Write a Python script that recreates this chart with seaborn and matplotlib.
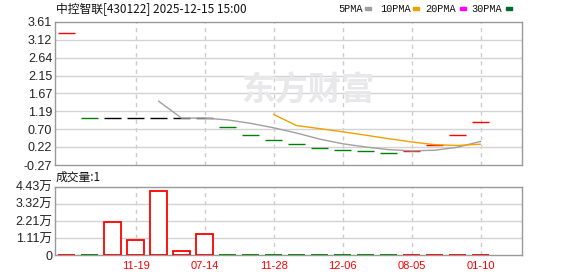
import numpy as np
import pandas as pd
import matplotlib
matplotlib.use("Agg")
import matplotlib.pyplot as plt
import seaborn as sns

# ---------------- data ----------------
title_text = "中控智联[430122] 2025-12-15 15:00"
closes = [3.30, 1.00, 1.00, 1.00, 1.00, 1.00, 1.00, 0.756, 0.535, 0.40,
          0.288, 0.18, 0.125, 0.098, 0.044, 0.12, 0.26, 0.535, 0.884]
candle_dir = ["up", "down", "flat", "flat", "flat", "flat", "flat", "down", "down", "down",
              "down", "down", "down", "down", "down", "up", "up", "up", "up"]
volumes = [0.02, 0.02, 2.12, 0.95, 4.13, 0.24, 1.34, 0.02, 0.02, 0.02,
           0.02, 0.02, 0.02, 0.02, 0.02, 0.02, 0.02, 0.02, 0.02]  # 万
volume_dir = ["up", "down", "up", "up", "up", "up", "up", "down", "down", "down",
              "down", "down", "down", "down", "down", "up", "up", "up", "up"]
xtick_pos = [3, 6, 9, 12, 15, 18]
xtick_labels = ["11-19", "07-14", "11-28", "12-06", "08-05", "01-10"]
price_ticks = [3.61, 3.12, 2.64, 2.15, 1.67, 1.19, 0.70, 0.22, -0.27]
vol_ticks = [0, 1.11, 2.21, 3.32, 4.43]
vol_tick_labels = ["0", "1.11万", "2.21万", "3.32万", "4.43万"]
ma_periods = [5, 10, 20, 30]
ma_names = ["5PMA", "10PMA", "20PMA", "30PMA"]
volume_title = "成交量:1"

# ---------------- style ----------------
sns.set_theme(style="white")
plt.rcParams["font.family"] = ["Liberation Sans", "Noto Sans CJK SC", "DejaVu Sans"]
plt.rcParams["axes.unicode_minus"] = False

COL = {"up": "#ff0000", "down": "#008000", "flat": "#000000"}
MA_COL = ["#a0a0a0", "#f0a000", "#ff00ff", "#006b2d"]
GRID = "#d3d3d3"
SPINE = "#999999"

W, H = 578, 276
fig = plt.figure(figsize=(W / 100, H / 100), dpi=100)
fig.patch.set_facecolor("white")

def fx(px):
    return px / W

def fy(py):
    return 1 - py / H

ax = fig.add_axes([fx(55), fy(165), fx(522) - fx(55), fy(21.7) - fy(165)])
axv = fig.add_axes([fx(55), fy(255), fx(522) - fx(55), fy(186.7) - fy(255)])

idx = np.arange(len(closes))
df = pd.DataFrame({"i": idx, "close": closes})
for p in ma_periods:
    df[f"ma{p}"] = df["close"].rolling(p).mean()

# watermark
fig.text(fx(308), fy(91), "东方财富", fontsize=24, fontweight="bold",
         color="#e8e8eb", ha="center", va="center",
         family=["Noto Sans CJK SC", "DejaVu Sans"], zorder=0)

for a in (ax, axv):
    a.set_facecolor("none")
    a.set_xlim(-0.5, 19.8)
    for s in a.spines.values():
        s.set_color(SPINE)
        s.set_linewidth(1)
    for xp in xtick_pos:
        a.axvline(xp, color="#cccccc", lw=1, ls=(0, (3, 3)), zorder=1)
    a.tick_params(axis="both", length=0, pad=2)

# price panel
ax.set_ylim(-0.27, 3.61)
ax.set_yticks(price_ticks)
ax.set_yticklabels([f"{t:.2f}" for t in price_ticks], fontsize=9, color="#222222")
for t in price_ticks[1:-1]:
    ax.axhline(t, color=GRID, lw=1, zorder=1)
ax.set_xticks([])

ax.hlines(df["close"], df["i"] - 0.36, df["i"] + 0.36,
          colors=[COL[d] for d in candle_dir], lw=1.0, zorder=3)

for p, c in zip(ma_periods, MA_COL):
    sub = df.dropna(subset=[f"ma{p}"])
    if len(sub):
        sns.lineplot(data=sub, x="i", y=f"ma{p}", ax=ax, color=c, lw=1, zorder=4)
ax.set_xlabel("")
ax.set_ylabel("")
ax.set_xlim(-0.5, 19.8)

# volume panel
axv.set_ylim(0, 4.43)
axv.set_yticks(vol_ticks)
axv.set_yticklabels(vol_tick_labels, fontsize=9, color="#222222")
for t in vol_ticks[1:-1]:
    axv.axhline(t, color=GRID, lw=1, zorder=1)
for i, (v, d) in enumerate(zip(volumes, volume_dir)):
    if d == "up":
        axv.bar(i, v, width=0.72, facecolor="white", edgecolor=COL["up"], lw=1.3, zorder=3)
    else:
        axv.bar(i, v, width=0.72, facecolor=COL["down"], edgecolor=COL["down"], lw=1.3, zorder=3)
axv.set_xticks(xtick_pos)
axv.set_xticklabels(xtick_labels, fontsize=8, color="#ff0000")
axv.tick_params(axis="x", pad=4)

# header texts
fig.text(fx(56), fy(9), title_text, fontsize=8.5, color="#111111", ha="left", va="center",
         family=["Noto Sans CJK SC", "DejaVu Sans"])
fig.text(fx(56), fy(177.7), volume_title, fontsize=8.5, color="#111111", ha="left", va="center",
         family=["Noto Sans CJK SC", "DejaVu Sans"])

leg_text_x = [338, 380, 425.5, 471.5]
leg_mark_x = [365, 413, 460, 505.7]
for name, c, tx, mx in zip(ma_names, MA_COL, leg_text_x, leg_mark_x):
    fig.text(fx(tx), fy(9), name, fontsize=7.4, color="#111111", ha="left", va="center",
             family=["Liberation Mono"])
    fig.patches.append(plt.Rectangle((fx(mx), fy(10)), fx(6), 3 / H, color=c,
                                     transform=fig.transFigure, figure=fig))

fig.savefig("out.png", dpi=100)
